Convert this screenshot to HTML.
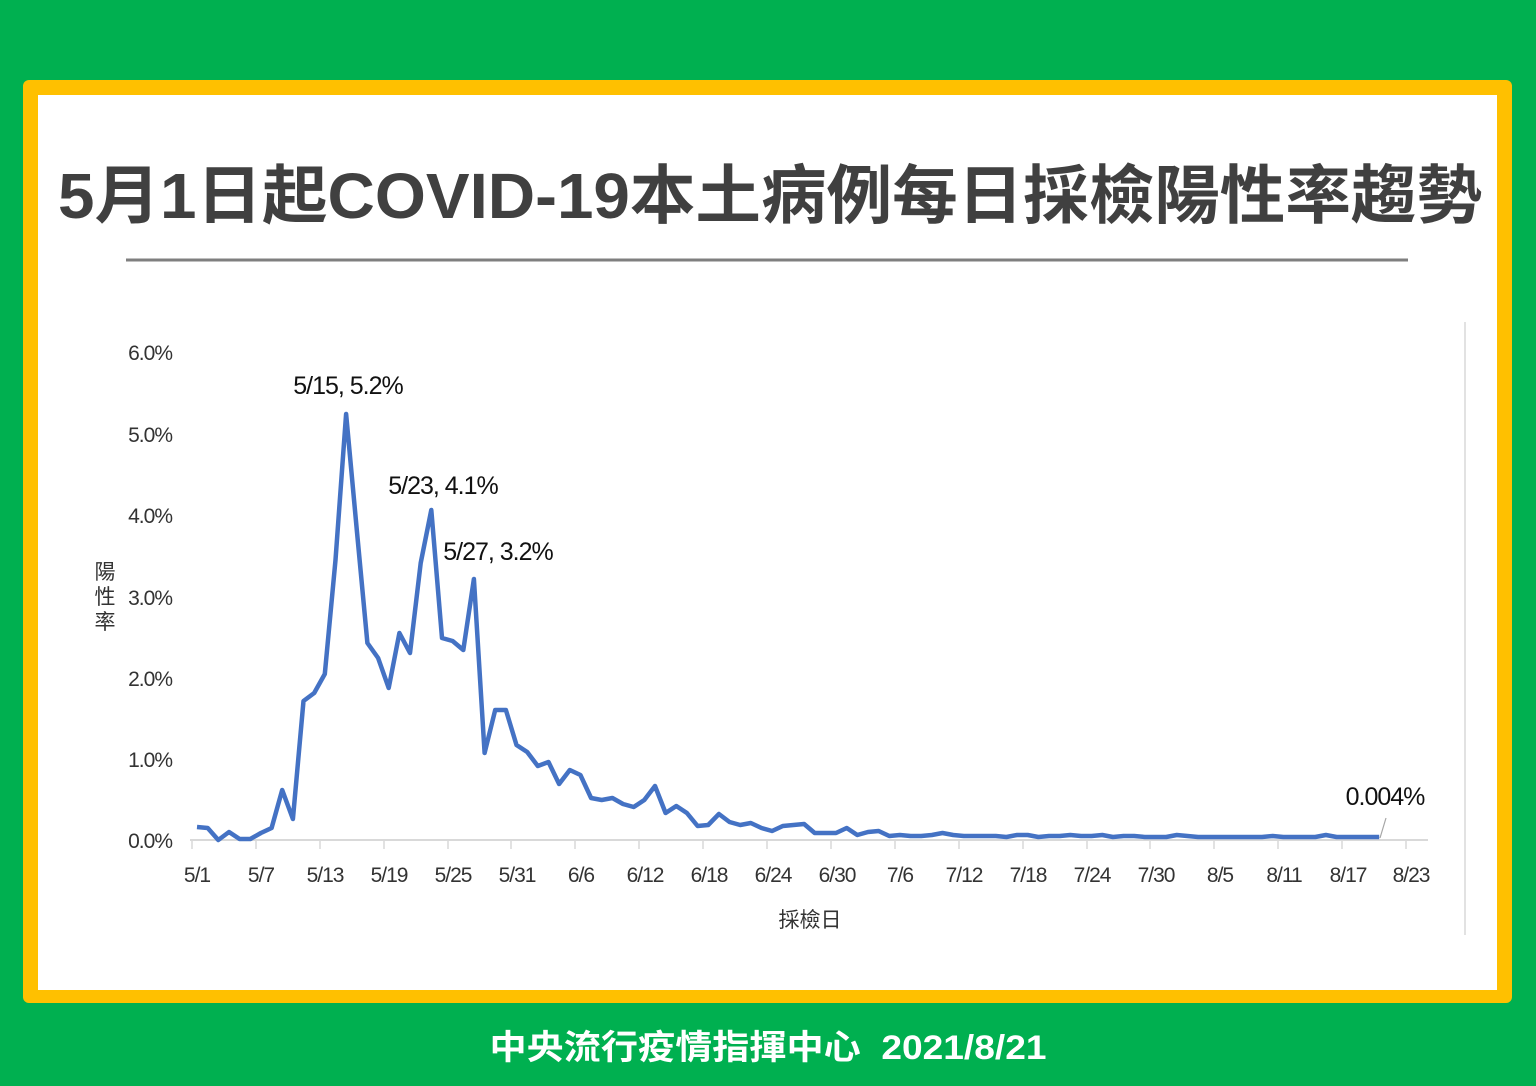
<!DOCTYPE html>
<html><head><meta charset="utf-8"><style>
html,body{margin:0;padding:0;background:#00b050;}
svg{display:block}
text{font-family:"Liberation Sans","Noto Sans CJK TC",sans-serif;}
</style></head><body>
<svg width="1536" height="1086" viewBox="0 0 1536 1086" xmlns="http://www.w3.org/2000/svg">
<rect x="0" y="0" width="1536" height="1086" fill="#00b050"/>
<rect x="23" y="80" width="1489" height="923" rx="6" fill="#ffc000"/>
<rect x="38" y="95" width="1459" height="895" fill="#ffffff"/>
<text x="770" y="218" text-anchor="middle" font-size="64" font-weight="bold" fill="#404040" textLength="1424" lengthAdjust="spacingAndGlyphs">5月1日起COVID-19本土病例每日採檢陽性率趨勢</text>
<line x1="126" y1="260" x2="1408" y2="260" stroke="#7f7f7f" stroke-width="3"/>
<line x1="1465" y1="322" x2="1465" y2="935" stroke="#d9d9d9" stroke-width="1.5"/>
<g font-size="21" fill="#333" text-anchor="end" letter-spacing="-1">
<text x="172" y="360">6.0%</text>
<text x="172" y="442">5.0%</text>
<text x="172" y="523">4.0%</text>
<text x="172" y="605">3.0%</text>
<text x="172" y="686">2.0%</text>
<text x="172" y="767">1.0%</text>
<text x="172" y="848">0.0%</text>
</g>
<g font-size="21" fill="#333" text-anchor="middle">
<text x="105" y="579">陽</text>
<text x="105" y="604">性</text>
<text x="105" y="629">率</text>
<text x="810" y="927">採檢日</text>
</g>
<line x1="190" y1="840" x2="1428" y2="840" stroke="#d9d9d9" stroke-width="2"/>
<g stroke="#d9d9d9" stroke-width="1.5">
<line x1="192" y1="840" x2="192" y2="849"/><line x1="256" y1="840" x2="256" y2="849"/><line x1="320" y1="840" x2="320" y2="849"/><line x1="384" y1="840" x2="384" y2="849"/><line x1="448" y1="840" x2="448" y2="849"/><line x1="511" y1="840" x2="511" y2="849"/><line x1="575" y1="840" x2="575" y2="849"/><line x1="639" y1="840" x2="639" y2="849"/><line x1="703" y1="840" x2="703" y2="849"/><line x1="767" y1="840" x2="767" y2="849"/><line x1="831" y1="840" x2="831" y2="849"/><line x1="895" y1="840" x2="895" y2="849"/><line x1="959" y1="840" x2="959" y2="849"/><line x1="1023" y1="840" x2="1023" y2="849"/><line x1="1087" y1="840" x2="1087" y2="849"/><line x1="1150" y1="840" x2="1150" y2="849"/><line x1="1214" y1="840" x2="1214" y2="849"/><line x1="1278" y1="840" x2="1278" y2="849"/><line x1="1342" y1="840" x2="1342" y2="849"/><line x1="1406" y1="840" x2="1406" y2="849"/>
</g>
<g font-size="21" fill="#333" text-anchor="middle" letter-spacing="-1">
<text x="197" y="882">5/1</text><text x="261" y="882">5/7</text><text x="325" y="882">5/13</text><text x="389" y="882">5/19</text><text x="453" y="882">5/25</text><text x="517" y="882">5/31</text><text x="581" y="882">6/6</text><text x="645" y="882">6/12</text><text x="709" y="882">6/18</text><text x="773" y="882">6/24</text><text x="837" y="882">6/30</text><text x="900" y="882">7/6</text><text x="964" y="882">7/12</text><text x="1028" y="882">7/18</text><text x="1092" y="882">7/24</text><text x="1156" y="882">7/30</text><text x="1220" y="882">8/5</text><text x="1284" y="882">8/11</text><text x="1348" y="882">8/17</text><text x="1411" y="882">8/23</text>
</g>
<polyline fill="none" stroke="#4472c4" stroke-width="4.5" stroke-linejoin="round" points="197,827 207.7,828 218.3,840 229,832 239.6,839 250.3,839 260.9,833 271.6,828 282.2,790 292.9,819 303.5,701 314.2,693 324.8,674 335.5,560 346.1,414 356.8,530 367.4,643 378.1,658 388.7,688 399.4,633 410,653 420.7,563 431.3,510 442,638 452.6,641 463.3,650 473.9,579 484.6,753 495.2,710 505.9,710 516.5,745 527.2,752 537.8,766 548.5,762 559.1,784 569.8,770 580.4,775 591.1,798 601.7,800 612.4,798 623,804 633.7,807 644.3,800 655,786 665.6,813 676.3,806 686.9,813 697.6,826 708.2,825 718.9,814 729.5,822 740.2,825 750.8,823 761.5,828 772.1,831 782.8,826 793.4,825 804.1,824 814.7,833 825.4,833 836,833 846.7,828 857.3,835 868,832 878.6,831 889.3,836 899.9,835 910.6,836 921.2,836 931.9,835 942.5,833 953.2,835 963.8,836 974.5,836 985.1,836 995.8,836 1006.4,837 1017.1,835 1027.7,835 1038.4,837 1049,836 1059.7,836 1070.3,835 1081,836 1091.6,836 1102.3,835 1112.9,837 1123.6,836 1134.2,836 1144.9,837 1155.5,837 1166.2,837 1176.8,835 1187.5,836 1198.1,837 1208.8,837 1219.4,837 1230.1,837 1240.7,837 1251.4,837 1262,837 1272.7,836 1283.3,837 1294,837 1304.6,837 1315.3,837 1325.9,835 1336.6,837 1347.2,837 1357.9,837 1368.5,837 1379.2,837"/>
<line x1="1380" y1="838" x2="1386" y2="818" stroke="#a6a6a6" stroke-width="1.2"/>
<g font-size="25" fill="#111" text-anchor="middle" letter-spacing="-1">
<text x="348" y="394">5/15, 5.2%</text>
<text x="443" y="494">5/23, 4.1%</text>
<text x="498" y="560">5/27, 3.2%</text>
<text x="1385" y="805">0.004%</text>
</g>
<text x="768" y="1059" text-anchor="middle" font-size="34" font-weight="bold" fill="#ffffff" textLength="557" lengthAdjust="spacingAndGlyphs" xml:space="preserve">中央流行疫情指揮中心  2021/8/21</text>
</svg>
</body></html>
